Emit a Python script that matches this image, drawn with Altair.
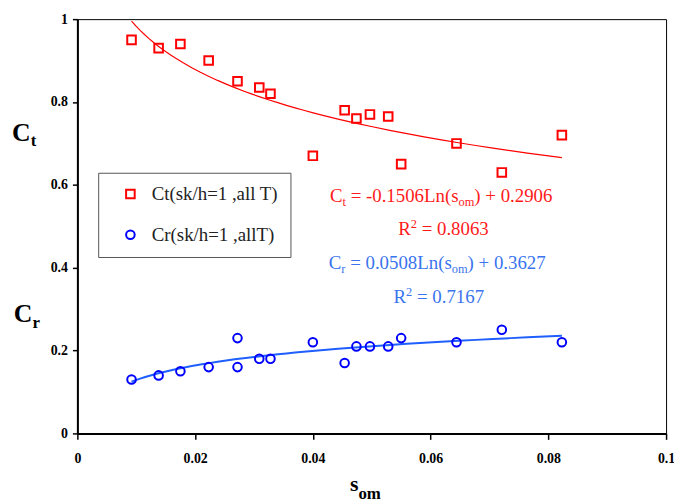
import altair as alt
import pandas as pd

# ---------------- data ----------------
series_names = ["Ct(sk/h=1 ,all T)", "Cr(sk/h=1 ,allT)"]

som_ct = [0.0092, 0.0138, 0.0175, 0.0223, 0.0272, 0.0309, 0.0328, 0.0400,
          0.0454, 0.0474, 0.0497, 0.0528, 0.0550, 0.0644, 0.0721, 0.0823]
ct_vals = [0.95, 0.93, 0.94, 0.90, 0.85, 0.835, 0.82, 0.67,
           0.78, 0.76, 0.77, 0.765, 0.65, 0.70, 0.63, 0.72]

som_cr = [0.0092, 0.0138, 0.0175, 0.0223, 0.0272, 0.0272, 0.0309, 0.0328, 0.0400,
          0.0454, 0.0474, 0.0497, 0.0528, 0.0550, 0.0644, 0.0721, 0.0823]
cr_vals = [0.13, 0.14, 0.15, 0.16, 0.23, 0.16, 0.18, 0.18, 0.22,
           0.17, 0.21, 0.21, 0.21, 0.23, 0.22, 0.25, 0.22]

x_ticks = [0, 0.02, 0.04, 0.06, 0.08, 0.1]
y_ticks = [0, 0.2, 0.4, 0.6, 0.8, 1]

# equation / title texts: list of (text, font size, baseline shift px; + = down)
eq_ct = [("C", 19, 0), ("t", 12.5, 4), (" = -0.1506Ln(s", 19, 0), ("om", 12.5, 4), (") + 0.2906", 19, 0)]
r2_ct = [("R", 19, 0), ("2", 12.5, -7), (" = 0.8063", 19, 0)]
eq_cr = [("C", 19, 0), ("r", 12.5, 4), (" = 0.0508Ln(s", 19, 0), ("om", 12.5, 4), (") + 0.3627", 19, 0)]
r2_cr = [("R", 19, 0), ("2", 12.5, -7), (" = 0.7167", 19, 0)]
title_ct = [("C", 26, 0), ("t", 17, 5.5)]
title_cr = [("C", 26, 0), ("r", 17, 5.5)]
title_x = [("s", 22, 0), ("om", 17, 8)]

# ---------------- layout helpers ----------------
W, H = 594, 418
XDOM, YDOM = [0, 0.1], [0, 1]
XPP = (XDOM[1] - XDOM[0]) / W
YPP = (YDOM[1] - YDOM[0]) / H

TIMES = {' ': 250, '(': 333, ')': 333, '+': 564, '-': 333, '.': 250, '=': 564,
         'C': 667, 'L': 611, 'R': 667, 'm': 778, 'n': 500, 'o': 500, 'r': 333,
         's': 389, 't': 278}
TIMES_B = {' ': 250, 'C': 722, 't': 333, 'r': 444, 's': 389, 'o': 500, 'm': 833}
for d in "0123456789":
    TIMES[d] = 500
    TIMES_B[d] = 500


def segments(parts, x0, y0, bold=False):
    table = TIMES_B if bold else TIMES
    rows, off = [], 0.0
    for txt, size, shift in parts:
        stripped = txt.lstrip(" ")
        off += (len(txt) - len(stripped)) * table[' '] * size / 1000
        rows.append({"x": x0 + off * XPP, "y": y0 - shift * YPP, "t": stripped, "s": size})
        off += sum(table.get(c, 500) for c in stripped) * size / 1000
    return rows


red_rows = segments(eq_ct, 0.0429, 0.5574) + segments(r2_ct, 0.0545, 0.4801)
blue_rows = segments(eq_cr, 0.0427, 0.3971) + segments(r2_cr, 0.0537, 0.3151)
black_rows = (segments(title_ct, -0.0111, 0.7069, True)
              + segments(title_cr, -0.0108, 0.2687, True)
              + segments(title_x, 0.0463, -0.1388, True))

pts = pd.DataFrame({
    "som": som_ct + som_cr,
    "val": ct_vals + cr_vals,
    "series": [series_names[0]] * len(ct_vals) + [series_names[1]] * len(cr_vals),
})

xs = alt.Scale(domain=XDOM, nice=False, zero=False)
ys = alt.Scale(domain=YDOM, nice=False, zero=False)

common_axis = dict(title=None, grid=False, format="~g", labelFont="Liberation Serif",
                   labelFontWeight="bold", labelFontSize=14, labelColor="black",
                   tickColor="black", tickWidth=1.5, domainColor="black", domainWidth=2,
                   labelFlush=False, labelOverlap=False)
xaxis = alt.Axis(values=x_ticks, tickSize=6, labelPadding=12, **common_axis)
yaxis = alt.Axis(values=y_ticks, tickSize=5, labelPadding=5, **common_axis)

X = lambda f: alt.X(f, scale=xs, axis=xaxis)
Y = lambda f: alt.Y(f, scale=ys, axis=yaxis)

legend = alt.Legend(orient="none", legendX=21, legendY=155, title=None, padding=12,
                    strokeColor="#555555", fillColor="white", labelFont="Liberation Serif",
                    labelFontSize=19, labelColor="#222222", rowPadding=21,
                    symbolStrokeWidth=2, symbolSize=75, symbolOffset=11, labelOffset=12,
                    labelLimit=400, cornerRadius=0,
                    labelExpr="datum.label + '\u00a0\u00a0\u00a0\u00a0'")

base = alt.Chart(pts)

line_ct = base.transform_filter(alt.datum.series == series_names[0]).transform_regression(
    "som", "val", method="log").mark_line(color="#ff0000", strokeWidth=1.2).encode(
    x=X("som:Q"), y=Y("val:Q"))
line_cr = base.transform_filter(alt.datum.series == series_names[1]).transform_regression(
    "som", "val", method="log").mark_line(color="#1f5fff", strokeWidth=2).encode(
    x=X("som:Q"), y=Y("val:Q"))

points = base.mark_point(filled=False, strokeWidth=2, size=75, opacity=1).encode(
    x=X("som:Q"), y=Y("val:Q"),
    color=alt.Color("series:N", scale=alt.Scale(domain=series_names, range=["#ff0000", "#0000ff"]), legend=legend),
    shape=alt.Shape("series:N", scale=alt.Scale(domain=series_names, range=["square", "circle"]), legend=legend),
)


def text_layer(rows, color, bold):
    return alt.Chart(pd.DataFrame(rows)).mark_text(
        align="left", baseline="alphabetic", font="Liberation Serif",
        fontWeight="bold" if bold else "normal", color=color).encode(
        x=X("x:Q"), y=Y("y:Q"), text="t:N", size=alt.Size("s:Q", scale=None, legend=None))


chart = alt.layer(
    line_ct, line_cr, points,
    text_layer(red_rows, "#ff1a1a", False),
    text_layer(blue_rows, "#3a74ee", False),
    text_layer(black_rows, "black", True),
).properties(
    width=W, height=H,
    autosize=alt.AutoSizeParams(type="none"),
    padding={"left": 70, "top": 9, "right": 8, "bottom": 69},
).configure_view(stroke="black", strokeWidth=1)

chart.save("out.html", embed_options={"renderer": "svg", "actions": False})
